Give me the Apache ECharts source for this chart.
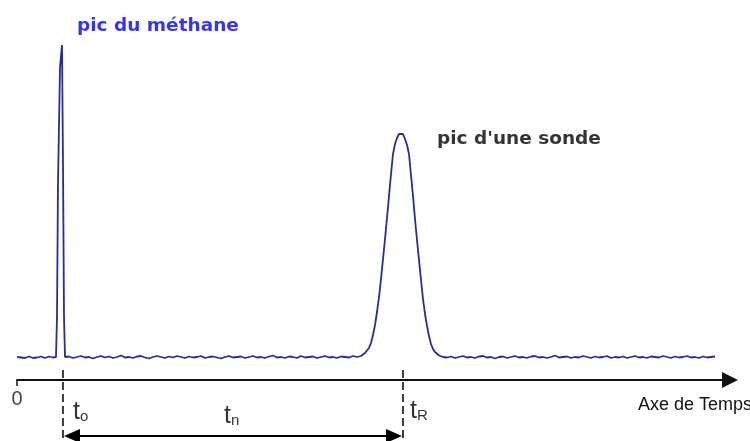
<!DOCTYPE html>
<html style="height: 100%">
<head>
<meta charset="utf-8">
<title>Chromatogramme</title>
<style>
  html, body { margin: 0; height: 100%; background: #fff; }
  #container { width: 750px; height: 441px; }
</style>
</head>
<body>
<div id="container"></div>
<script src="https://cdn.jsdelivr.net/npm/echarts@6/dist/echarts.min.js"></script>
<script>
// temps : unités arbitraires (0 = origine de l'axe), signal : unités arbitraires (0 = axe des temps)
var noiseLeftStart = 0, noiseLeftStep = 2;
var noiseLeft = [23, 23.5, 22.5, 23, 22, 22.5, 23.5, 23, 22, 23, 22.5, 23, 23.5, 22.5, 22, 23, 23.5, 23, 22.5, 23];

var methaneTimes  = [39, 40, 40, 41, 41, 43, 43, 45, 45, 45.5, 46, 47, 47, 48, 48, 50];
var methaneSignal = [23, 24, 63, 63, 197, 197, 313, 313, 335, 335, 215, 215, 63, 63, 23, 22.5];

var noiseMidStart = 52, noiseMidStep = 4;
var noiseMid = [
  23.5, 22, 23, 24, 22.5, 23, 21.5, 23, 24, 22.5,
  23.5, 22, 23, 24.5, 22.5, 23, 22, 23.5, 24, 22.5,
  21.5, 23, 24, 23, 22, 23.5, 22.5, 24, 23, 22,
  23.5, 22.5, 23, 24, 22, 23, 23.5, 22.5, 21.5, 23,
  24, 22.5, 23, 23.5, 22, 23, 24, 22.5, 23, 22,
  23.5, 24.5, 22.5, 23, 22, 23.5, 23, 22, 24, 22.5,
  23, 23.5, 22, 23, 24, 22.5, 23, 22, 23.5, 23,
  22.5, 24, 23
];

var sondeStart = 344, sondeStep = 2;
var sondeSignal = [
  24, 25, 27, 29, 32, 37, 45, 55, 68, 83,
  101, 121, 141, 162, 184, 206, 226, 236, 242, 246,
  247,
  246, 241, 235, 226, 205, 184, 161, 140, 120,
  100, 81, 66, 54, 44, 36, 31, 28, 26, 24.5, 23.5
];

var noiseRightStart = 426, noiseRightStep = 4;
var noiseRight = [
  23, 22.5, 23.5, 22, 23, 24, 22.5, 23, 22, 23.5,
  24, 22.5, 23, 21.5, 23, 23.5, 22, 23, 24, 22.5,
  23, 22, 23.5, 24, 22.5, 23, 22, 23, 24.5, 22.5,
  23, 23.5, 22, 23, 22.5, 24, 23, 22, 23.5, 22.5,
  23, 24, 22, 23, 22.5, 23.5, 22, 23, 24, 22.5,
  23, 22, 23.5, 23, 22.5, 24, 23, 22, 23.5, 22.5,
  23, 24, 22.5, 23, 22, 23.5, 22.5, 23, 23.5
];

// repères t0 (méthane) et tR (sonde)
var markerTimes = [46, 386];
var markerSpan = [10, -61];
var arrowEnds = [55, 377];
var arrowLevel = -56;

// textes
var peakNames = ['pic du méthane', "pic d'une sonde"];
var peakNamePos = [[60, 354], [420, 241]];
var timeSubs = ['o', 'n', 'R'];
var timeSubPos = [[56, -32], [207, -36], [393, -31]];
var originLabel = '0';
var originLabelPos = [0, 0];

function segment(start, step, values) {
  return values.map(function (v, i) { return [start + i * step, v]; });
}

var chrom = segment(noiseLeftStart, noiseLeftStep, noiseLeft)
  .concat(methaneTimes.map(function (t, i) { return [t, methaneSignal[i]]; }))
  .concat(segment(noiseMidStart, noiseMidStep, noiseMid))
  .concat(segment(sondeStart, sondeStep, sondeSignal))
  .concat(segment(noiseRightStart, noiseRightStep, noiseRight));

var dom = document.getElementById('container');
var myChart = echarts.init(dom, null, { renderer: 'canvas' });

var markerSeries = markerTimes.map(function (t) {
  return {
    type: 'line',
    data: [[t, markerSpan[0]], [t, markerSpan[1]]],
    showSymbol: false,
    lineStyle: { color: '#000', width: 1.5, type: [8, 4] },
    silent: true
  };
});

var option = {
  animation: false,
  backgroundColor: '#fff',
  grid: { left: 17, right: 20, top: 0, bottom: 0, outerBoundsMode: 'none' },
  xAxis: {
    type: 'value',
    min: 0,
    max: 713,
    splitLine: { show: false },
    axisLine: {
      onZero: true,
      symbol: ['none', 'triangle'],
      symbolSize: [16, 16],
      lineStyle: { color: '#111', width: 2 }
    },
    axisTick: { customValues: [0], length: 6, lineStyle: { color: '#111', width: 1.5 } },
    axisLabel: { show: false },
    name: 'Axe de Temps',
    nameLocation: 'end',
    nameGap: -92,
    nameTextStyle: {
      fontSize: 18,
      fontFamily: 'Liberation Sans',
      color: '#111',
      align: 'left',
      verticalAlign: 'top',
      padding: [16, 0, 0, 0]
    }
  },
  yAxis: { type: 'value', min: -61, max: 380, show: false },
  series: [
    {
      name: 'chromatogramme',
      type: 'line',
      data: chrom,
      showSymbol: false,
      lineStyle: { color: '#2a2a9c', width: 1.8 },
      silent: true
    }
  ].concat(markerSeries).concat([
    {
      name: 'tn',
      type: 'line',
      data: [
        { value: [arrowEnds[0], arrowLevel], symbolRotate: 90 },
        { value: [arrowEnds[1], arrowLevel], symbolRotate: -90 }
      ],
      symbol: 'triangle',
      symbolSize: [14, 16],
      showSymbol: true,
      itemStyle: { color: '#000' },
      lineStyle: { color: '#000', width: 2 },
      silent: true
    },
    {
      name: 'origine',
      type: 'scatter',
      symbolSize: 0,
      clip: false,
      data: [originLabelPos],
      label: {
        show: true,
        position: 'bottom',
        distance: 9,
        formatter: '{z|' + originLabel + '}',
        rich: {
          z: { fontSize: 20, fontFamily: 'Liberation Sans', color: '#111' }
        }
      },
      silent: true
    },
    {
      name: 'pics',
      type: 'scatter',
      symbolSize: 0,
      data: peakNamePos.map(function (p, i) {
        return {
          value: p,
          label: {
            formatter: peakNames[i],
            color: i === 0 ? '#0000ff' : '#000'
          }
        };
      }),
      label: {
        show: true,
        position: 'right',
        distance: 0,
        fontSize: 18.5,
        fontWeight: 'bold',
        fontFamily: 'DejaVu Sans'
      },
      silent: true
    },
    {
      name: 'temps',
      type: 'scatter',
      symbolSize: 0,
      data: timeSubPos.map(function (p, i) {
        return { value: p, label: { formatter: '{t|t}{s|' + timeSubs[i] + '}' } };
      }),
      label: {
        show: true,
        position: 'right',
        distance: 0,
        rich: {
          t: { fontSize: 25, fontFamily: 'Liberation Sans', color: '#000' },
          s: { fontSize: 15, lineHeight: 12, verticalAlign: 'bottom', fontFamily: 'Liberation Sans', color: '#000' }
        }
      },
      silent: true
    }
  ])
};

myChart.setOption(option);
</script>
</body>
</html>
